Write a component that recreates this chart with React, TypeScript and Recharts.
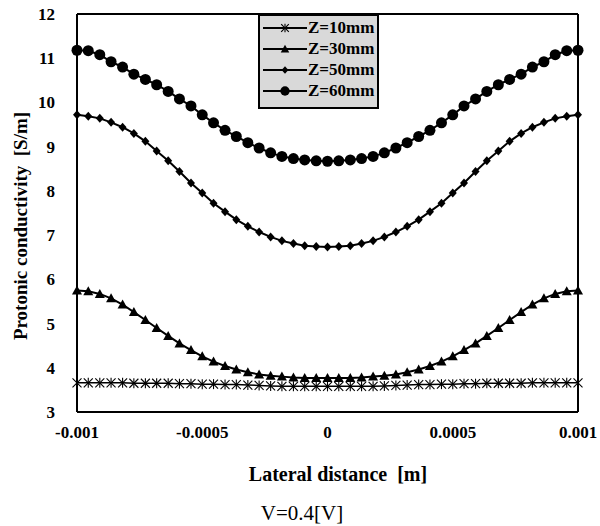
import React from 'react';
import {
  LineChart,
  Line,
  XAxis,
  YAxis,
  ReferenceLine
} from 'recharts';

// lateral positions [m], 45 samples across the membrane
const distance = [
  -0.001, -0.000955, -0.000909, -0.000864, -0.000818, -0.000773, -0.000727, -0.000682,
  -0.000636, -0.000591, -0.000545, -0.0005, -0.000455, -0.000409, -0.000364, -0.000318,
  -0.000273, -0.000227, -0.000182, -0.000136, -0.000091, -0.000045, 0,
  0.000045, 0.000091, 0.000136, 0.000182, 0.000227, 0.000273, 0.000318, 0.000364,
  0.000409, 0.000455, 0.0005, 0.000545, 0.000591, 0.000636, 0.000682, 0.000727,
  0.000773, 0.000818, 0.000864, 0.000909, 0.000955, 0.001,
];

const z10 = [
  3.66, 3.66, 3.66, 3.66, 3.66, 3.65, 3.65, 3.65, 3.65, 3.64, 3.64, 3.63, 3.63, 3.62, 3.62,
  3.61, 3.60, 3.59, 3.58, 3.58, 3.58, 3.58, 3.58,
  3.58, 3.58, 3.58, 3.58, 3.59, 3.60, 3.61, 3.62, 3.62, 3.63, 3.63, 3.64, 3.64, 3.65, 3.65,
  3.65, 3.65, 3.66, 3.66, 3.66, 3.66, 3.66,
];

const z30 = [
  5.75, 5.73, 5.67, 5.57, 5.43, 5.26, 5.08, 4.90, 4.72, 4.55, 4.40, 4.26, 4.14, 4.04, 3.96,
  3.90, 3.85, 3.82, 3.80, 3.78, 3.77, 3.77, 3.77,
  3.77, 3.77, 3.78, 3.80, 3.82, 3.85, 3.90, 3.96, 4.04, 4.14, 4.26, 4.40, 4.55, 4.72, 4.90,
  5.08, 5.26, 5.43, 5.57, 5.67, 5.73, 5.75,
];

const z50 = [
  9.72, 9.69, 9.64, 9.55, 9.44, 9.30, 9.12, 8.90, 8.68, 8.44, 8.18, 7.95, 7.72, 7.53, 7.35,
  7.20, 7.07, 6.96, 6.87, 6.81, 6.76, 6.74, 6.73,
  6.74, 6.76, 6.81, 6.87, 6.96, 7.07, 7.20, 7.35, 7.53, 7.72, 7.95, 8.18, 8.44, 8.68, 8.90,
  9.12, 9.30, 9.44, 9.55, 9.64, 9.69, 9.72,
];

const z60 = [
  11.18, 11.17, 11.08, 10.92, 10.80, 10.64, 10.52, 10.40, 10.25, 10.08, 9.92, 9.72, 9.54,
  9.37, 9.23, 9.09, 8.97, 8.86, 8.78, 8.73, 8.70, 8.68, 8.67,
  8.68, 8.70, 8.73, 8.78, 8.86, 8.97, 9.09, 9.23, 9.37, 9.54, 9.72, 9.92, 10.08, 10.25,
  10.40, 10.52, 10.64, 10.80, 10.92, 11.08, 11.17, 11.18,
];

const xTicks = [-0.001, -0.0005, 0, 0.0005, 0.001];
const yTicks = [3, 4, 5, 6, 7, 8, 9, 10, 11, 12];

const seriesNames = ['Z=10mm', 'Z=30mm', 'Z=50mm', 'Z=60mm'];

const data = distance.map((d, i) => ({
  x: d,
  z10: z10[i],
  z30: z30[i],
  z50: z50[i],
  z60: z60[i],
}));

const serif = '"Liberation Serif", "Times New Roman", serif';

type Shape = 'star' | 'triangle' | 'diamond' | 'circle';

const Marker = ({ cx, cy, shape, k = 1 }: { cx: number; cy: number; shape: Shape; k?: number }) => {
  if (shape === 'star') {
    const s = 4.5 * k;
    return (
      <g stroke="#000" strokeWidth={1.1}>
        <line x1={cx - s} y1={cy - s} x2={cx + s} y2={cy + s} />
        <line x1={cx - s} y1={cy + s} x2={cx + s} y2={cy - s} />
        <line x1={cx} y1={cy - s - 0.5} x2={cx} y2={cy + s + 0.5} />
      </g>
    );
  }
  if (shape === 'triangle') {
    return (
      <polygon
        points={`${cx},${cy - 5 * k} ${cx + 5 * k},${cy + 4 * k} ${cx - 5 * k},${cy + 4 * k}`}
        fill="#000"
      />
    );
  }
  if (shape === 'diamond') {
    return (
      <polygon
        points={`${cx},${cy - 4.5 * k} ${cx + 4 * k},${cy} ${cx},${cy + 4.5 * k} ${cx - 4 * k},${cy}`}
        fill="#000"
      />
    );
  }
  return <circle cx={cx} cy={cy} r={5.5 * k} fill="#000" />;
};

const makeDot = (shape: Shape) => (props: any) => {
  const { cx, cy, index } = props;
  if (cx == null || cy == null) return <g key={`e-${shape}-${index}`} />;
  return <Marker key={`${shape}-${index}`} cx={cx} cy={cy} shape={shape} />;
};

const shapes: Shape[] = ['star', 'triangle', 'diamond', 'circle'];

const LegendBox = () => (
  <div
    style={{
      position: 'absolute',
      left: 258,
      top: 14,
      width: 114,
      height: 90,
      background: '#d9d9d9',
      border: '2px solid #000',
      padding: '1px 0 0 3px',
      fontFamily: serif,
      fontWeight: 'bold',
      fontSize: 17,
      lineHeight: '21px',
      color: '#000',
    }}
  >
    {seriesNames.map((name, i) => (
      <div key={name} style={{ display: 'flex', alignItems: 'center' }}>
        <svg width={44} height={14} style={{ marginRight: 1 }}>
          <line x1={0} y1={7} x2={44} y2={7} stroke="#000" strokeWidth={2} />
          <Marker cx={22} cy={7} shape={shapes[i]} k={0.85} />
        </svg>
        <span>{name}</span>
      </div>
    ))}
  </div>
);

const XTitle = () => (
  <text
    x={338}
    y={474}
    textAnchor="middle"
    dominantBaseline="central"
    fill="#000"
    fontSize={20}
    fontWeight="bold"
    fontFamily={serif}
  >
    {'Lateral distance\u00a0 [m]'}
  </text>
);

const YTitle = () => (
  <text
    x={20}
    y={226}
    transform="rotate(-90, 20, 226)"
    textAnchor="middle"
    dominantBaseline="central"
    fill="#000"
    fontSize={19}
    fontWeight="bold"
    fontFamily={serif}
  >
    {'Protonic conductivity\u00a0 [S/m]'}
  </text>
);

const App: React.FC = () => {
  return (
    <div style={{ position: 'absolute', left: 0, top: 0, width: 600, height: 526, background: '#fff' }}>
      <LineChart
        width={600}
        height={526}
        data={data}
        margin={{ top: 14, right: 22, left: 0, bottom: 0 }}
      >
        <XAxis
          dataKey="x"
          type="number"
          domain={[-0.001, 0.001]}
          ticks={xTicks}
          tickFormatter={(v: number) => String(v)}
          tick={{ fill: '#000', fontSize: 17, fontWeight: 'bold', fontFamily: serif }}
          tickLine={false}
          axisLine={{ stroke: '#000', strokeWidth: 2 }}
          tickMargin={8}
          height={114}
          label={{ content: () => <XTitle /> }}
        />
        <YAxis
          type="number"
          domain={[3, 12]}
          ticks={yTicks}
          interval={0}
          tick={{ fill: '#000', fontSize: 17, fontWeight: 'bold', fontFamily: serif }}
          tickLine={false}
          axisLine={{ stroke: '#000', strokeWidth: 2 }}
          tickMargin={16}
          width={77}
          label={{ content: () => <YTitle /> }}
        />
        <ReferenceLine y={12} stroke="#000" strokeWidth={2} />
        <ReferenceLine x={0.001} stroke="#000" strokeWidth={2} />
        <Line dataKey="z10" name={seriesNames[0]} stroke="#000" strokeWidth={1.5} dot={makeDot('star')} activeDot={false} isAnimationActive={false} />
        <Line dataKey="z30" name={seriesNames[1]} stroke="#000" strokeWidth={2} dot={makeDot('triangle')} activeDot={false} isAnimationActive={false} />
        <Line dataKey="z50" name={seriesNames[2]} stroke="#000" strokeWidth={2} dot={makeDot('diamond')} activeDot={false} isAnimationActive={false} />
        <Line dataKey="z60" name={seriesNames[3]} stroke="#000" strokeWidth={2} dot={makeDot('circle')} activeDot={false} isAnimationActive={false} />
      </LineChart>
      <LegendBox />
      <div
        style={{
          position: 'absolute',
          left: 0,
          width: 604,
          top: 501,
          textAlign: 'center',
          fontFamily: serif,
          fontSize: 21,
          color: '#000',
        }}
      >
        V=0.4[V]
      </div>
    </div>
  );
};

export default App;
